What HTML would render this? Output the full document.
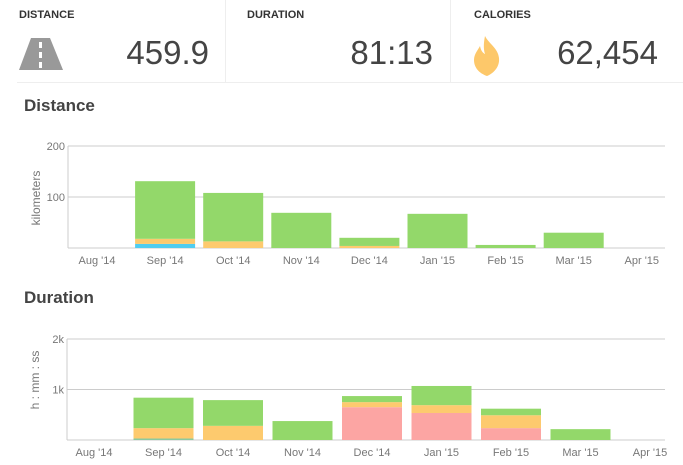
<!DOCTYPE html>
<html><head><meta charset="utf-8"><style>
body{margin:0;background:#fff;font-family:"Liberation Sans",sans-serif;color:#444;width:683px;height:465px;overflow:hidden;position:relative}
.card{position:absolute;top:0;height:82px;border-right:1px solid #eee}
.lbl{position:absolute;top:9px;font-size:11px;font-weight:bold;color:#333}
.val{position:absolute;top:34px;font-size:33px;color:#444;text-align:right}
h2{position:absolute;margin:0;font-size:17px;font-weight:bold;color:#444}
</style></head><body>
<div class="card" style="left:0;width:225px">
 <div class="lbl" style="left:19px">DISTANCE</div>
 <svg style="position:absolute;left:19px;top:38px" width="45" height="32"><polygon points="12,0 31,0 44,32 0,32" fill="#999"/><rect x="20" y="4" width="3" height="6" fill="#fff"/><rect x="20" y="14" width="3" height="6" fill="#fff"/><rect x="20" y="24" width="3" height="6" fill="#fff"/></svg>
 <div class="val" style="right:16px">459.9</div>
</div>
<div class="card" style="left:226px;width:224px">
 <div class="lbl" style="left:21px">DURATION</div>
 <div class="val" style="right:17px">81:13</div>
</div>
<div class="card" style="left:451px;width:232px;border-right:none">
 <div class="lbl" style="left:23px">CALORIES</div>
 <svg style="position:absolute;left:21px;top:36px" width="30" height="40"><path d="M13,0 C17,8 26,12 27,22 C28,32 20,38 15,40 C9,38 2,33 2,24 C2,18 6,14 8,10 C9,15 11,17 13,18 C11,12 12,5 13,0 Z" fill="#fdc86a"/></svg>
 <div class="val" style="right:25px">62,454</div>
</div>
<div style="position:absolute;left:17px;top:82px;width:666px;border-top:1px solid #eee"></div>
<h2 style="left:24px;top:96px">Distance</h2>
<h2 style="left:24px;top:288px">Duration</h2>
<svg id="c" width="683" height="465" style="position:absolute;left:0;top:0"></svg>
<script>
const months=["Aug '14","Sep '14","Oct '14","Nov '14","Dec '14","Jan '15","Feb '15","Mar '15","Apr '15"];
const distBlue=[0,8,0,0,0,0,0,0,0];
const distOrange=[0,10,13,0,4,0,0,0,0];
const distGreen=[0,113,95,69,16,67,6,30,0];
const distTicks=[100,200];
const durRed=[0,0,0,0,650,535,235,0,0];
const durOrange=[0,205,280,0,100,155,255,0,0];
const durGreen=[0,603,510,375,120,380,130,215,0];
const durBottomGreen=[0,30,0,0,0,0,0,0,0];
const durTicks=[1000,2000];
const durTickLabels=["1k","2k"];
const colors={blue:"#50cdf0",orange:"#fdca6e",green:"#93d86a",red:"#fca5a3"};
const svg=document.getElementById('c');
function el(t,a,txt){const e=document.createElementNS('http://www.w3.org/2000/svg',t);for(const k in a)e.setAttribute(k,a[k]);if(txt!=null)e.textContent=txt;svg.appendChild(e);return e;}
function chart(cfg){
 const y=v=>cfg.base-v*cfg.scale;
 const x=i=>cfg.x0+i*cfg.step;
 let g=el('line',{x1:cfg.left,x2:cfg.right,y1:cfg.base,y2:cfg.base,stroke:'#ccc'});
 
 let a=el('line',{x1:cfg.left,x2:cfg.left,y1:y(cfg.ticks[cfg.ticks.length-1]),y2:cfg.base,stroke:'#ccc'});
 
 cfg.ticks.forEach((t,i)=>{
  const l=el('line',{x1:cfg.left,x2:cfg.right,y1:y(t),y2:y(t),stroke:'#ccc'});
  
  const tx=el('text',{x:cfg.left-3,y:y(t)+4,'text-anchor':'end','font-size':11,fill:'#777','font-family':'Liberation Sans'},cfg.tickLabels[i]);
  
 });
 const yt=el('text',{transform:`translate(${cfg.left-28},${cfg.titleY}) rotate(-90)`,'text-anchor':'middle','font-size':12,fill:'#777','font-family':'Liberation Sans'},cfg.title);
 
 months.forEach((m,i)=>{
  const tx=el('text',{x:x(i),y:cfg.base+16,'text-anchor':'middle','font-size':11,fill:'#777','font-family':'Liberation Sans'},m);
  
  let acc=0;
  cfg.series.forEach(s=>{
   const v=s.data[i];if(!v)return;
   const r=el('rect',{x:x(i)-30,y:y(acc+v),width:60,height:v*cfg.scale,fill:s.color});
   
   acc+=v;
  });
 });
}
chart({name:'distance',base:248,scale:0.51,left:68,right:665,x0:97,step:68.1,ticks:distTicks,tickLabels:["100","200"],title:'kilometers',titleY:198,
 series:[{key:'blue',data:distBlue,color:colors.blue},{key:'orange',data:distOrange,color:colors.orange},{key:'green',data:distGreen,color:colors.green}]});
chart({name:'duration',base:440,scale:0.0505,left:67,right:665,x0:94,step:69.5,ticks:durTicks,tickLabels:durTickLabels,title:'h : mm : ss',titleY:380,
 series:[{key:'bottom-green',data:durBottomGreen,color:'#8cc9a0'},{key:'red',data:durRed,color:colors.red},{key:'orange',data:durOrange,color:colors.orange},{key:'green',data:durGreen,color:colors.green}]});
</script>
</body></html>
